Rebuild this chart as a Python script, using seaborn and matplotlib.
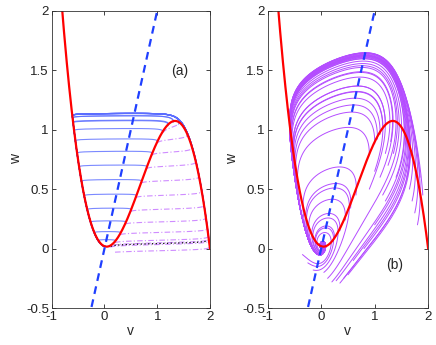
import numpy as np
import pandas as pd
import seaborn as sns
import matplotlib.pyplot as plt

red_v = [-0.805, -0.602, 0.02, 0.28, 0.61, 1.21, 1.35, 2.0]
red_w = [2.0, 1.137, 0.015, 0.128, 0.492, 0.997, 1.08, 0.0]
red_weight = [1, 1, 5, 1, 1, 1, 2, 2]
# blue dashed w-nullcline: w = w_slope * v
w_slope = 2.0
eps_a = 0.01
eps_b = 0.5

# panel (a): trajectories start on the middle branch
a_start_v = [0.1, 0.15, 0.2, 0.3, 0.4, 0.5, 0.6, 0.7, 0.8, 0.9, 1.0, 1.1, 1.2, 1.3]
a_kick = 0.01
a_low_start = (0.2, -0.03)
a_dot_start = (0.12, 0.02)

# panel (b): initial conditions
b_start_v = [0.05, 0.12, 0.2, 0.28, 0.35, 0.42, 0.5,
             -0.35, -0.25, -0.15,
             0.25, 0.35, 0.45, 0.55, 0.65,
             0.9, 1.0, 1.05, 1.1, 1.15, 1.2,
             1.6, 1.65, 1.7, 1.75, 1.8, 1.85, 1.9,
             1.0, 1.2, 0.8, 1.4, 0.6,
             1.1, 1.2, 1.3, 0.9, 1.0, 1.25, 1.15, 1.35]
b_start_w = [-0.2, -0.25, -0.28, -0.27, -0.29, -0.25, -0.22,
             -0.05, -0.12, -0.18,
             0.09, 0.15, 0.24, 0.34, 0.45,
             0.8, 0.88, 0.92, 0.96, 1.0, 1.03,
             0.6, 0.5, 0.4, 0.3, 0.2, 0.6, 0.45,
             0.2, 0.4, 0.0, 0.6, -0.1,
             0.6, 0.8, 0.9, 0.5, 0.65, 0.7, 0.45, 0.8]

coef = np.polyfit(red_v, red_w, 4, w=red_weight)
f = np.poly1d(coef)


def simulate(v0, w0, eps, T, dt):
    v = np.array(v0, float)
    w = np.array(w0, float)

    def rhs(v, w):
        return (f(v) - w) / eps, v - w / w_slope

    vs, ws = [v.copy()], [w.copy()]
    for _ in range(int(T / dt)):
        k1 = rhs(v, w)
        k2 = rhs(v + dt / 2 * k1[0], w + dt / 2 * k1[1])
        k3 = rhs(v + dt / 2 * k2[0], w + dt / 2 * k2[1])
        k4 = rhs(v + dt * k3[0], w + dt * k3[1])
        v = v + dt / 6 * (k1[0] + 2 * k2[0] + 2 * k3[0] + k4[0])
        w = w + dt / 6 * (k1[1] + 2 * k2[1] + 2 * k3[1] + k4[1])
        vs.append(v.copy())
        ws.append(w.copy())
    return np.array(vs), np.array(ws)


def to_frame(vs, ws):
    n = vs.shape[1]
    return pd.DataFrame({"v": vs.T.ravel(), "w": ws.T.ravel(),
                         "traj": np.repeat(np.arange(n), vs.shape[0])})


sns.set_style("ticks")
plt.rcParams["font.family"] = ["Liberation Sans", "DejaVu Sans"]
plt.rcParams["font.size"] = 9.5

fig = plt.figure(figsize=(4.36, 3.45), dpi=100)
ax1 = fig.add_axes([0.1186, 0.107, 0.363, 0.862])
ax2 = fig.add_axes([0.614, 0.107, 0.368, 0.862])

vv = np.linspace(-1, 2, 400)
nc = pd.DataFrame({"v": vv, "w": f(vv), "w2": w_slope * vv})

# ---- panel (a)
sv = np.array(a_start_v)
bv, bw = simulate(sv[2:], f(sv[2:]) + a_kick, eps_a, 4.0, 0.0005)
pv0 = np.append(sv, [a_low_start[0], a_dot_start[0]])
pw0 = np.append(f(sv) - a_kick, [a_low_start[1], a_dot_start[1]])
pv, pw = simulate(pv0, pw0, eps_a, 4.0, 0.0005)

sns.lineplot(data=to_frame(bv, bw), x="v", y="w", units="traj", estimator=None,
             sort=False, color="#5a6cff", lw=0.8, alpha=0.8, ax=ax1)
fast_parts, slow_parts = [], []
for i in range(pv.shape[1]):
    gap = np.abs(f(pv[:, i]) - pw[:, i])
    hit = np.where((pv[:, i] > 1.2) & (gap < 0.02))[0]
    k = hit[0] if len(hit) else len(gap)
    fast_parts.append(pd.DataFrame({"v": pv[:k, i], "w": pw[:k, i], "traj": i}))
    slow_parts.append(pd.DataFrame({"v": pv[k:, i], "w": pw[k:, i], "traj": i}))
fast = pd.concat(fast_parts)
slow = pd.concat(slow_parts)
n_last = pv.shape[1] - 1
sns.lineplot(data=slow, x="v", y="w", units="traj", estimator=None, sort=False,
             color="#5a6cff", lw=0.8, alpha=0.8, ax=ax1)
sns.lineplot(data=fast[fast.traj < n_last], x="v", y="w", units="traj",
             estimator=None, sort=False, color="#cf8cff", lw=0.8,
             linestyle=(0, (5, 2, 1, 2)), ax=ax1)
sns.lineplot(data=fast[fast.traj == n_last], x="v", y="w", estimator=None,
             sort=False, color="black", lw=0.9, linestyle=(0, (1, 2)), ax=ax1)

# ---- panel (b)
qv, qw = simulate(b_start_v, b_start_w, eps_b, 40.0, 0.004)
sns.lineplot(data=to_frame(qv, qw), x="v", y="w", units="traj", estimator=None,
             sort=False, color="#b44dff", lw=0.7, ax=ax2)

for ax in (ax1, ax2):
    sns.lineplot(data=nc, x="v", y="w", color="red", lw=1.6, sort=False, ax=ax)
    sns.lineplot(data=nc, x="v", y="w2", color="#1f3fff", lw=1.6,
                 linestyle=(0, (3.5, 2.5)), sort=False, ax=ax)
    ax.set_xlim(-1, 2)
    ax.set_ylim(-0.5, 2)
    ax.set_xticks([-1, 0, 1, 2])
    ax.set_yticks([-0.5, 0, 0.5, 1, 1.5, 2])
    ax.set_yticklabels(["-0.5", "0", "0.5", "1", "1.5", "2"])
    ax.set_xticklabels(["-1", "0", "1", "2"])
    ax.tick_params(direction="in", length=3, width=0.6, top=True, right=True,
                   labelsize=9.5, pad=2, colors="#222222")
    for s in ax.spines.values():
        s.set_linewidth(0.6)
        s.set_color("#333333")
    ax.set_xlabel("v", fontsize=10, labelpad=1)
    ax.set_ylabel("w", fontsize=10, labelpad=2)

ax1.text(1.43, 1.49, "(a)", ha="center", va="center", fontsize=10)
ax2.text(1.37, -0.14, "(b)", ha="center", va="center", fontsize=10)

fig.savefig("out.png", dpi=100)
